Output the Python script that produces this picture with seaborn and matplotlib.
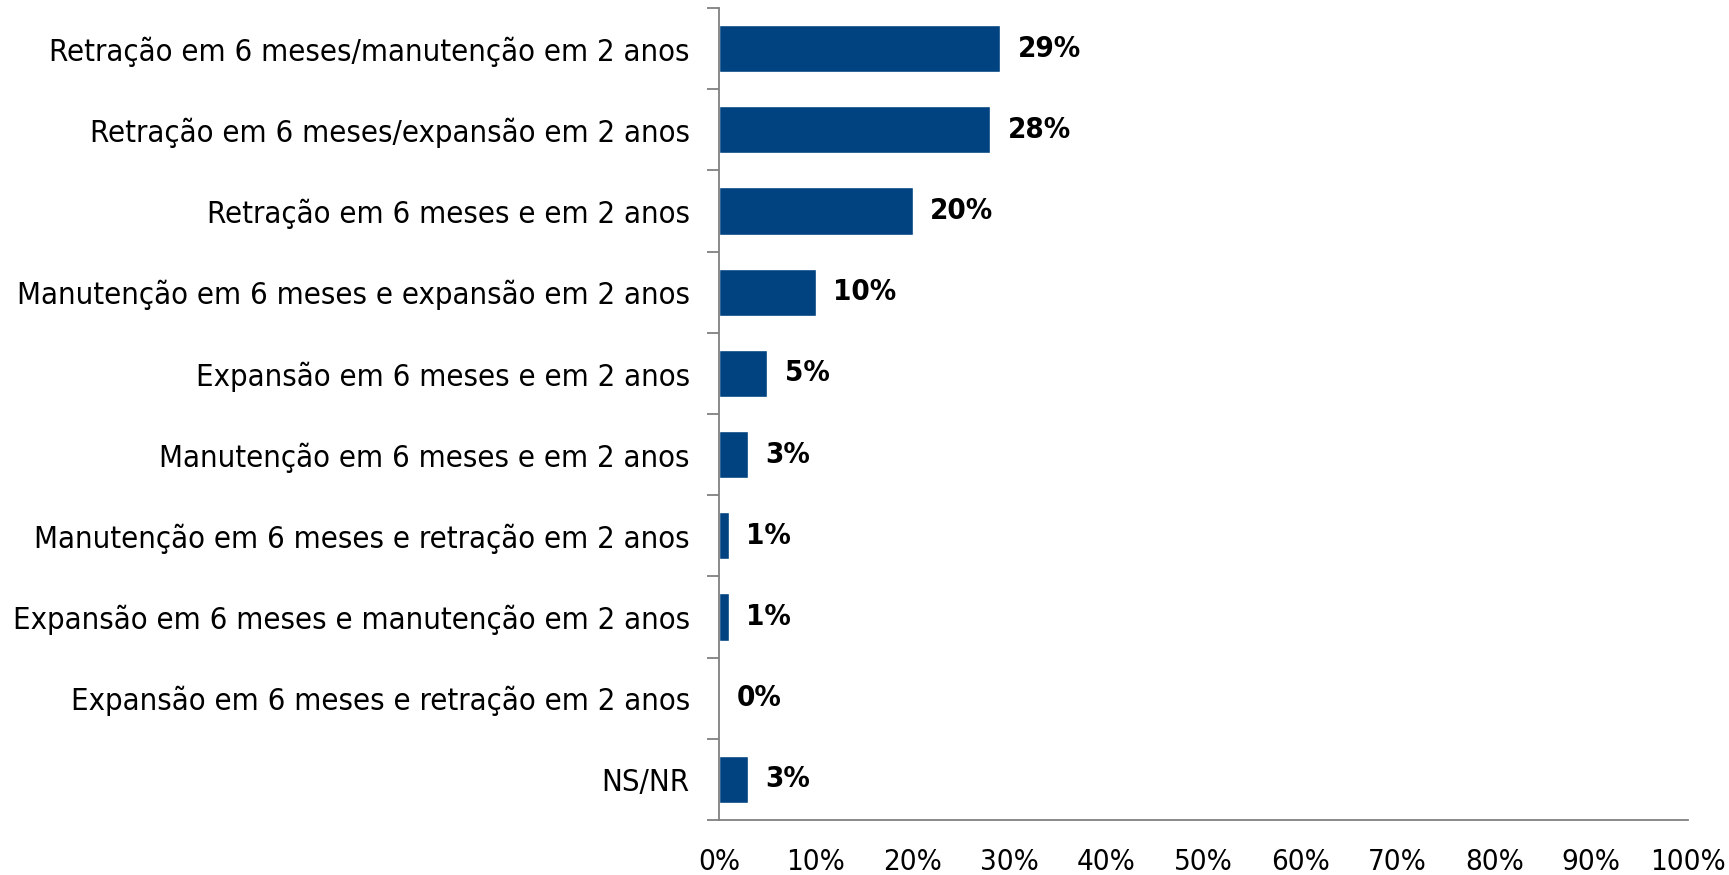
import matplotlib
matplotlib.use("Agg")
import matplotlib.pyplot as plt
import matplotlib.font_manager as fm
import seaborn as sns
import pandas as pd
import numpy as np
from matplotlib.ticker import FixedLocator

categories = [
    "Retração em 6 meses/manutenção em 2 anos",
    "Retração em 6 meses/expansão em 2 anos",
    "Retração em 6 meses e em 2 anos",
    "Manutenção em 6 meses e expansão em 2 anos",
    "Expansão em 6 meses e em 2 anos",
    "Manutenção em 6 meses e em 2 anos",
    "Manutenção em 6 meses e retração em 2 anos",
    "Expansão em 6 meses e manutenção em 2 anos",
    "Expansão em 6 meses e retração em 2 anos",
    "NS/NR",
]
values = [29, 28, 20, 10, 5, 3, 1, 1, 0, 3]
x_ticks = [0, 10, 20, 30, 40, 50, 60, 70, 80, 90, 100]

sns.set_style("white")

# a narrow font looks closest; use a condensed face if one is installed
condensed = any(f.name == "DejaVu Sans" and f.stretch == "condensed"
                for f in fm.fontManager.ttflist)
if condensed:
    plt.rcParams["font.family"] = ["DejaVu Sans", "Liberation Sans"]
    plt.rcParams["font.stretch"] = "condensed"
else:
    plt.rcParams["font.family"] = ["Liberation Sans", "DejaVu Sans"]

df = pd.DataFrame({"cat": categories, "val": values})

fig = plt.figure(figsize=(17.29, 8.75), dpi=100)
ax = fig.add_axes([0.4158, 0.0629, 0.5605, 0.928])

sns.barplot(data=df, x="val", y="cat", orient="h", color="#004380",
            width=0.58, saturation=1, ax=ax)

ax.set_xlim(0, 100)
ax.set_ylim(len(categories) - 0.5, -0.5)
ax.set_xlabel("")
ax.set_ylabel("")

# fit label size so the longest category is about 675 px wide
r = fig.canvas.get_renderer()
probe = fig.text(0, 0, max(categories, key=len), fontsize=26)
w = probe.get_window_extent(r).width
probe.remove()
fs = min(26, 26 * 675 / w)

for i, v in enumerate(values):
    ax.text(v + 1.8, i, f"{v}%", va="center", ha="left",
            fontsize=fs * 0.95, fontweight="bold", color="black")

ax.set_xticks(x_ticks)
ax.set_xticklabels([f"{t}%" for t in x_ticks], fontsize=fs * 0.95, color="black")
ax.tick_params(axis="x", direction="out", length=9, width=1.3,
               color="#808080", pad=11)

ax.yaxis.set_minor_locator(FixedLocator(np.arange(-0.5, len(categories), 1.0)))
ax.tick_params(axis="y", which="major", length=0, labelsize=fs,
               labelcolor="black", pad=21)
ax.tick_params(axis="y", which="minor", direction="out", length=9,
               width=1.3, color="#808080", left=True)

for s in ["top", "right"]:
    ax.spines[s].set_visible(False)
for s in ["left", "bottom"]:
    ax.spines[s].set_color("#808080")
    ax.spines[s].set_linewidth(1.3)

fig.savefig("out.png", dpi=100)
